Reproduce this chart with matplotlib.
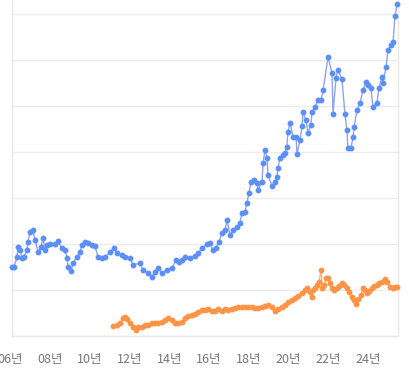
import numpy as np
import matplotlib
matplotlib.use('Agg')
from matplotlib import pyplot as plt

plt.rcParams['font.family'] = ['Noto Sans CJK KR', 'DejaVu Sans']

# 파란 시리즈 (연도, 값)
blue_year = [2006.09, 2006.19, 2006.34, 2006.39, 2006.49, 2006.59, 2006.69, 2006.84, 2006.89, 2006.99,
             2007.14, 2007.25, 2007.40, 2007.55, 2007.65, 2007.75, 2007.85, 2008.00, 2008.25, 2008.40,
             2008.60, 2008.75, 2008.86, 2008.91, 2009.06, 2009.16, 2009.36, 2009.51, 2009.61, 2009.76,
             2009.91, 2010.11, 2010.26, 2010.42, 2010.62, 2010.77, 2011.02, 2011.22, 2011.37, 2011.62,
             2011.77, 2012.03, 2012.18, 2012.53, 2012.68, 2012.93, 2013.13, 2013.28, 2013.43, 2013.64,
             2013.89, 2014.14, 2014.34, 2014.49, 2014.64, 2014.79, 2015.04, 2015.30, 2015.45, 2015.65,
             2015.90, 2016.05, 2016.20, 2016.35, 2016.50, 2016.65, 2016.81, 2016.91, 2017.06, 2017.21,
             2017.41, 2017.56, 2017.66, 2017.81, 2017.91, 2018.01, 2018.11, 2018.26, 2018.42, 2018.47,
             2018.67, 2018.72, 2018.82, 2018.92, 2018.97, 2019.17, 2019.32, 2019.42, 2019.47, 2019.57,
             2019.72, 2019.82, 2019.92, 2019.97, 2020.08, 2020.23, 2020.38, 2020.43, 2020.58, 2020.68,
             2020.73, 2020.88, 2020.98, 2021.13, 2021.18, 2021.33, 2021.48, 2021.64, 2021.74, 2021.99,
             2022.19, 2022.24, 2022.39, 2022.49, 2022.69, 2022.84, 2022.94, 2022.99, 2023.14, 2023.25,
             2023.30, 2023.45, 2023.60, 2023.75, 2023.90, 2024.00, 2024.15, 2024.25, 2024.45, 2024.55,
             2024.70, 2024.75, 2024.91, 2025.01, 2025.16, 2025.26, 2025.36, 2025.46]
blue_val = [150.0, 150.0, 171.7, 193.5, 187.0, 169.6, 171.7, 187.0, 204.3, 226.1,
            230.4, 208.7, 182.6, 193.5, 213.0, 187.0, 197.8, 200.0, 200.0, 206.5,
            191.3, 187.0, 169.6, 150.0, 141.3, 158.7, 171.7, 182.6, 197.8, 204.3,
            202.2, 197.8, 195.7, 171.7, 169.6, 171.7, 182.6, 191.3, 180.4, 176.1,
            171.7, 169.6, 154.3, 158.7, 143.5, 137.0, 128.3, 139.1, 147.8, 137.0,
            143.5, 147.8, 165.2, 160.9, 165.2, 171.7, 169.6, 173.9, 180.4, 191.3,
            200.0, 202.2, 187.0, 191.3, 204.3, 223.9, 230.4, 252.2, 219.6, 230.4,
            237.0, 245.7, 267.4, 269.6, 289.1, 310.9, 334.8, 339.1, 332.6, 317.4,
            334.8, 376.1, 404.3, 387.0, 350.0, 326.1, 334.8, 345.7, 365.2, 387.0,
            393.5, 397.8, 410.9, 443.5, 463.0, 432.6, 432.6, 395.7, 426.1, 456.5,
            487.0, 469.6, 441.3, 458.7, 487.0, 497.8, 513.0, 513.0, 534.8, 606.5,
            571.7, 482.6, 560.9, 578.3, 558.7, 482.6, 447.8, 408.7, 408.7, 432.6,
            454.3, 491.3, 506.5, 534.8, 552.2, 545.7, 539.1, 497.8, 506.5, 539.1,
            563.0, 550.0, 584.8, 621.7, 632.6, 639.1, 695.7, 721.7]

# 주황 시리즈 (연도, 값)
orange_year = [2011.17, 2011.37, 2011.52, 2011.67, 2011.77, 2011.87, 2012.03, 2012.18, 2012.33, 2012.43,
               2012.63, 2012.78, 2012.93, 2013.13, 2013.28, 2013.43, 2013.64, 2013.79, 2013.94, 2014.14,
               2014.29, 2014.44, 2014.64, 2014.79, 2014.94, 2015.14, 2015.30, 2015.45, 2015.65, 2015.80,
               2015.95, 2016.15, 2016.30, 2016.45, 2016.65, 2016.81, 2016.96, 2017.16, 2017.31, 2017.46,
               2017.66, 2017.81, 2017.96, 2018.16, 2018.31, 2018.47, 2018.67, 2018.82, 2018.97, 2019.17,
               2019.32, 2019.47, 2019.67, 2019.82, 2019.97, 2020.18, 2020.33, 2020.48, 2020.68, 2020.83,
               2020.93, 2021.08, 2021.18, 2021.23, 2021.33, 2021.43, 2021.53, 2021.64, 2021.69, 2021.79,
               2021.89, 2021.99, 2022.09, 2022.19, 2022.29, 2022.44, 2022.54, 2022.69, 2022.79, 2022.94,
               2023.04, 2023.20, 2023.30, 2023.40, 2023.50, 2023.65, 2023.75, 2023.85, 2023.95, 2024.05,
               2024.20, 2024.30, 2024.45, 2024.55, 2024.70, 2024.86, 2024.96, 2025.11, 2025.26, 2025.36,
               2025.46]
orange_val = [21.7, 23.9, 28.3, 39.1, 41.3, 37.0, 28.3, 19.6, 13.0, 19.6,
              19.6, 23.9, 23.9, 28.3, 28.3, 28.3, 30.4, 34.8, 39.1, 34.8,
              28.3, 28.3, 30.4, 39.1, 43.5, 45.7, 47.8, 52.2, 56.5, 56.5,
              58.7, 54.3, 54.3, 58.7, 54.3, 58.7, 56.5, 58.7, 60.9, 63.0,
              62.0, 64.0, 63.0, 63.0, 60.9, 60.9, 63.0, 65.2, 67.4, 63.0,
              54.3, 58.7, 63.0, 67.4, 73.9, 78.3, 82.6, 87.0, 93.5, 100.0,
              104.3, 95.7, 84.8, 100.0, 104.3, 110.9, 117.4, 143.5, 104.3, 110.9,
              126.1, 126.1, 115.2, 104.3, 100.0, 104.3, 108.7, 115.2, 110.9, 104.3,
              95.7, 84.8, 78.3, 69.6, 80.4, 89.1, 104.3, 100.0, 93.5, 97.8,
              104.3, 108.7, 110.9, 115.2, 117.4, 123.9, 117.4, 106.5, 104.3, 106.5,
              106.5]

tick_years = [2006, 2008, 2010, 2012, 2014, 2016, 2018, 2020, 2022, 2024]
tick_labels = ['06년', '08년', '10년', '12년', '14년', '16년', '18년', '20년', '22년', '24년']

fig = plt.figure(figsize=(4.1, 3.8), dpi=100)
ax = fig.add_axes([12 / 410, 44 / 380, 386 / 410, 336 / 380])

# 선 + 점
ax.plot(blue_year, blue_val, color='#7d93f2', lw=1.0, alpha=0.85, zorder=3)
ax.plot(blue_year, blue_val, ls='none', marker='o', ms=3.2, color='#5b8ff9', zorder=4, clip_on=False)
ax.plot(orange_year, orange_val, color='#ffa36b', lw=1.0, alpha=0.85, zorder=3)
ax.plot(orange_year, orange_val, ls='none', marker='o', ms=3.2, color='#ff9447', zorder=4, clip_on=False)

ax.set_xlim(2006.09, 2025.51)
ax.set_ylim(0, 730.4)
ax.set_yticks(np.arange(0, 701, 100))
ax.set_yticklabels([])
ax.set_xticks([])
ax.tick_params(axis='y', length=0)
ax.grid(axis='y', color='#ececec', lw=1.0)
ax.set_axisbelow(True)

for s in ['left', 'right', 'bottom']:
    ax.spines[s].set_color('#e8e8e8')
    ax.spines[s].set_linewidth(1.0)
ax.spines['top'].set_visible(False)

# x축 라벨 (06년은 왼쪽 끝에서 잘림)
for yr, lab in zip(tick_years, tick_labels):
    ax.annotate(lab, xy=(yr, 0), xycoords=('data', 'axes fraction'), xytext=(0, -17),
                textcoords='offset points', ha='center', va='center', fontsize=9,
                color='#777777', annotation_clip=False)

fig.savefig('out.png', dpi=100)
